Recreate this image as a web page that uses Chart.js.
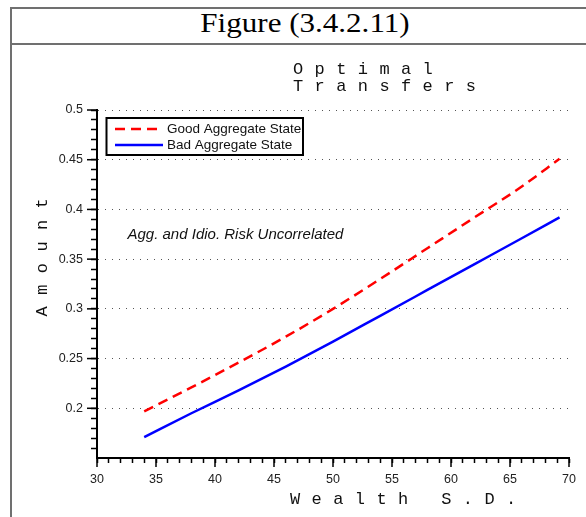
<!DOCTYPE html>
<html><head><meta charset="utf-8">
<script src="https://cdn.jsdelivr.net/npm/chart.js@4/dist/chart.umd.min.js"></script>
<style>
html,body{margin:0;padding:0;background:#fff;overflow:hidden;}
#wrap{position:relative;width:586px;height:517px;overflow:hidden;}
#frame{position:absolute;left:10px;top:7px;width:700px;height:600px;border-left:2px solid #707070;border-top:2px solid #707070;}
#divider{position:absolute;left:10px;top:43px;width:700px;height:2px;background:#707070;}
#fig{position:absolute;left:11px;top:5px;width:588px;text-align:center;line-height:36px;font-family:"Liberation Serif","Times New Roman",serif;font-size:27px;color:#000;}
#fig span{display:inline-block;transform:scaleX(1.15);}
canvas{position:absolute;left:0;top:0;}
</style></head>
<body>
<div id="wrap">
  <div id="frame"></div>
  <div id="divider"></div>
  <div id="fig"><span>Figure (3.4.2.11)</span></div>
  <canvas id="c" width="586" height="517"></canvas>
</div>
<script>
// ---- data ----
const wealthSD   = [34, 38, 42, 46, 50, 54, 58, 62, 66, 69.2];
const goodState  = [0.197, 0.221, 0.246, 0.272, 0.300, 0.330, 0.361, 0.392, 0.423, 0.451];
const badState   = [0.171, 0.195, 0.218, 0.242, 0.267, 0.293, 0.319, 0.345, 0.371, 0.392];
const seriesLabels = ['Good Aggregate State', 'Bad Aggregate State'];
const xRange = [30, 70];
const yRange = [0.15, 0.5];
const titleLines = ['O p t i m a l', 'T r a n s f e r s'];
const xTitle = 'W e a l t h   S . D .';
const yTitle = 'A m o u n t';
const noteText = 'Agg. and Idio. Risk Uncorrelated';

const SANS = '"Liberation Sans", Arial, sans-serif';
const MONO = '"Liberation Mono", "Courier New", monospace';

const isMajorY = v => { const k = Math.round(v * 100); return k % 5 === 0 && k !== 15; };
const isMajorX = v => Math.round(v) % 5 === 0;

const decorations = {
  id: 'decorations',
  afterDraw(chart) {
    const {ctx, scales: {x, y}, chartArea: a} = chart;
    ctx.save();
    // major ticks (longer)
    ctx.strokeStyle = '#000'; ctx.lineWidth = 1.5;
    y.ticks.forEach(t => {
      if (isMajorY(t.value)) {
        const py = y.getPixelForValue(t.value);
        ctx.beginPath(); ctx.moveTo(a.left - 10, py); ctx.lineTo(a.left, py); ctx.stroke();
      }
    });
    x.ticks.forEach(t => {
      if (isMajorX(t.value)) {
        const px = x.getPixelForValue(t.value);
        ctx.beginPath(); ctx.moveTo(px, a.bottom); ctx.lineTo(px, a.bottom + 9); ctx.stroke();
      }
    });
    // title
    ctx.fillStyle = '#111';
    ctx.font = '17px ' + MONO;
    if ('letterSpacing' in ctx) ctx.letterSpacing = '0.6px';
    ctx.textAlign = 'left'; ctx.textBaseline = 'alphabetic';
    ctx.fillText(titleLines[0], 293, 74);
    ctx.fillText(titleLines[1], 293, 91);
    // x title
    ctx.fillText(xTitle, 290, 504);
    // y title
    ctx.save();
    ctx.translate(42, 257);
    ctx.rotate(-Math.PI / 2);
    ctx.textAlign = 'center'; ctx.textBaseline = 'middle';
    ctx.fillText(yTitle, 0, 0);
    ctx.restore();
    if ('letterSpacing' in ctx) ctx.letterSpacing = '0px';
    // annotation
    ctx.font = 'italic 15px ' + SANS;
    ctx.fillStyle = '#111';
    ctx.fillText(noteText, 127.5, 239);
    // legend
    ctx.strokeStyle = '#000'; ctx.lineWidth = 2;
    ctx.strokeRect(106.5, 118, 196.5, 37);
    const ys = [129, 145];
    chart.data.datasets.forEach((ds, i) => {
      ctx.save();
      ctx.strokeStyle = ds.borderColor; ctx.lineWidth = 2.5;
      ctx.setLineDash(ds.borderDash || []);
      ctx.beginPath(); ctx.moveTo(115, ys[i]); ctx.lineTo(163, ys[i]); ctx.stroke();
      ctx.restore();
      ctx.fillStyle = '#111';
      ctx.font = '13.5px ' + SANS;
      ctx.textBaseline = 'middle'; ctx.textAlign = 'left';
      ctx.fillText(ds.label, 167, ys[i] + 0.5);
    });
    ctx.restore();
  }
};

const toPoints = ys => wealthSD.map((x, i) => ({x, y: ys[i]}));

new Chart(document.getElementById('c'), {
  type: 'line',
  data: {
    datasets: [
      {label: seriesLabels[0], data: toPoints(goodState), borderColor: '#ff0000', borderWidth: 2.5,
       borderDash: [10, 6], pointRadius: 0, fill: false, cubicInterpolationMode: 'monotone'},
      {label: seriesLabels[1], data: toPoints(badState), borderColor: '#0000ff', borderWidth: 2.5,
       pointRadius: 0, fill: false, cubicInterpolationMode: 'monotone'}
    ]
  },
  options: {
    responsive: false, animation: false, devicePixelRatio: 1,
    layout: {padding: {top: 110, right: 17, left: 0, bottom: 0}},
    plugins: {legend: {display: false}, tooltip: {enabled: false}, title: {display: false}},
    scales: {
      x: {
        type: 'linear', min: xRange[0], max: xRange[1],
        afterFit: s => { s.height = 59; },
        ticks: {stepSize: 1, autoSkip: false, maxRotation: 0, padding: 9,
          color: '#222', font: {family: SANS, size: 12.5},
          callback: v => isMajorX(v) ? String(Math.round(v)) : ''},
        grid: {drawOnChartArea: false, tickLength: 5, tickColor: '#000', tickWidth: 1.5, color: '#000'},
        border: {display: true, color: '#000', width: 2}
      },
      y: {
        type: 'linear', min: yRange[0], max: yRange[1],
        afterFit: s => { s.width = 97; },
        ticks: {stepSize: 0.01, autoSkip: false, padding: 8,
          color: '#222', font: {family: SANS, size: 12.5},
          callback: v => isMajorY(v) ? String(Number((Math.round(v * 100) / 100).toFixed(2))) : ''},
        grid: {
          drawOnChartArea: true, tickLength: 6, tickWidth: 1.5,
          tickColor: c => Math.round(c.tick.value * 100) === 15 ? 'rgba(0,0,0,0)' : '#000',
          color: c => isMajorY(c.tick.value) ? '#555' : 'rgba(0,0,0,0)',
          lineWidth: 1
        },
        border: {display: true, color: '#000', width: 2, dash: [1, 6]}
      }
    }
  },
  plugins: [decorations]
});
</script>
</body></html>
